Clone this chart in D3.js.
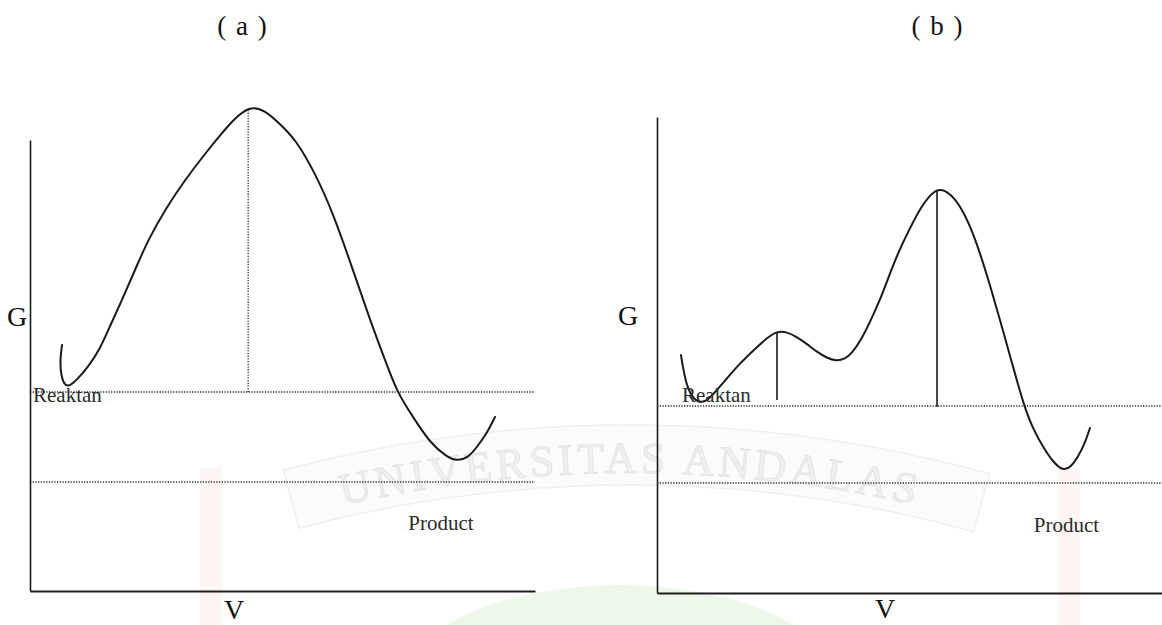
<!DOCTYPE html>
<html>
<head>
<meta charset="utf-8">
<script src="https://cdn.jsdelivr.net/npm/d3@7"></script>
<style>
  html, body { margin: 0; padding: 0; background: #fff; }
  svg { display: block; }
  text { font-family: "Liberation Serif", "Times New Roman", serif; }
</style>
</head>
<body>
<script>
// ---- Data: free-energy profiles along the reaction coordinate (V, G in arbitrary units) ----
const panelTitles = ["( a )", "( b )"];
const axisLabels = ["G", "V"];
const levelLabels = ["Reaktan", "Product"];

// (a) single-step reaction: [V, G]
const curveA = [
  [6.34, 49.2], [5.94, 46.2], [6.14, 43.2], [6.73, 41.4], [7.52, 40.8], [9.11, 42.0],
  [11.49, 44.8], [13.86, 48.4], [15.84, 53.0], [18.22, 58.2], [20.79, 64.2], [23.37, 70.2],
  [26.93, 76.6], [30.69, 82.2], [34.46, 87.2], [38.02, 91.6], [40.59, 94.6], [43.56, 97.0],
  [46.53, 96.2], [49.70, 93.2], [52.67, 90.2], [56.44, 83.6], [60.00, 75.6], [63.76, 64.8],
  [67.33, 54.2], [70.30, 46.2], [72.67, 39.8], [75.84, 34.8], [79.21, 29.6], [82.57, 26.8],
  [84.55, 26.0], [86.73, 26.6], [88.51, 28.8], [90.50, 31.6], [92.08, 34.8]
];
// (b) two-step reaction with an intermediate: [V, G]
const curveB = [
  [4.75, 47.6], [5.15, 45.0], [5.74, 42.2], [6.53, 39.8], [8.12, 38.0], [9.90, 38.2],
  [13.07, 42.0], [16.44, 46.0], [19.80, 49.2], [21.78, 51.0], [23.76, 52.4], [25.74, 52.2],
  [27.72, 51.2], [29.70, 49.8], [31.68, 48.2], [33.66, 47.0], [35.45, 46.4], [37.23, 46.8],
  [38.61, 48.0], [40.40, 50.6], [42.18, 54.2], [44.16, 58.6], [45.94, 63.4], [47.72, 68.0],
  [50.10, 73.0], [52.28, 77.2], [54.06, 79.6], [55.84, 81.0], [58.02, 80.0], [60.20, 77.2],
  [62.18, 73.0], [63.96, 68.0], [65.94, 61.6], [67.92, 54.6], [70.30, 46.0], [72.67, 37.4],
  [74.46, 32.8], [76.44, 29.2], [78.42, 26.2], [80.40, 24.4], [81.98, 25.2], [83.37, 27.2],
  [84.75, 30.0], [85.74, 33.0]
];
// Reactant and product G levels
const levelsA = [39.8, 21.8];
const levelsB = [37.4, 22.0];
// Barrier markers: [V, G from, G to]
const barriersA = [[43.2, 39.8, 96.6]];
const barriersB = [[23.76, 38.6, 52.2], [55.45, 37.2, 80.6]];

// ---- Layout ----
const W = 1162, H = 625;
const panels = [
  { title: panelTitles[0], curve: curveA, levels: levelsA, barriers: barriersA, dotted: true,
    left: 30, right: 535, bottom: 591, axisTopG: 90.2, titleX: 242,
    gX: 17, gY: 326, vX: 234, vY: 619,
    reakX: 33, reakY: 402, prodV: 74.9, prodDy: 48 },
  { title: panelTitles[1], curve: curveB, levels: levelsB, barriers: barriersB, dotted: false,
    left: 657, right: 1162, bottom: 593, axisTopG: 95.2, titleX: 937,
    gX: 628, gY: 325, vX: 885, vY: 618,
    reakX: 682, reakY: 402, prodV: 74.6, prodDy: 49 }
];

const svg = d3.select("body").append("svg")
  .attr("width", W).attr("height", H)
  .attr("viewBox", `0 0 ${W} ${H}`);

svg.append("rect").attr("width", W).attr("height", H).attr("fill", "#fff");

// ---- Faint university watermark behind the diagrams ----
const wm = svg.append("g").attr("class", "watermark");
const clip = svg.append("defs").append("clipPath").attr("id", "shield");
clip.append("rect").attr("x", 222).attr("y", 468).attr("width", 836).attr("height", 160);

const rays = wm.append("g").attr("clip-path", "url(#shield)")
  .attr("transform", "translate(640,720)");
const rayArc = d3.arc().innerRadius(0).outerRadius(520);
const rayAngles = d3.range(-7, 7).map(i => i * 0.16);
rays.selectAll("path").data(rayAngles).join("path")
  .attr("d", a => rayArc({ startAngle: a, endAngle: a + 0.16 }))
  .attr("fill", (a, i) => i % 2 === 0 ? "#fcf0d6" : "#fef8ec");

wm.append("ellipse").attr("cx", 620).attr("cy", 700).attr("rx", 230).attr("ry", 115)
  .attr("fill", "#eef8ea");
wm.selectAll("rect.strip").data([200, 1058]).join("rect")
  .attr("class", "strip")
  .attr("x", d => d).attr("y", 468).attr("width", 22).attr("height", 160)
  .attr("fill", "#fdf5f3");

const arcCx = 630, arcCy = 1773, arcR = 1300;
const ribbon = d3.arc().innerRadius(arcR - 12).outerRadius(arcR + 48)
  .startAngle(-0.26).endAngle(0.27);
wm.append("path").attr("transform", `translate(${arcCx},${arcCy})`)
  .attr("d", ribbon()).attr("fill", "#fbfbfb").attr("stroke", "#efefef").attr("stroke-width", 1.5);

// Lay the motto out along the arc, then set each glyph as its own rotated letter
const a0 = -0.3, a1 = 0.3;
wm.append("path").attr("id", "wmArc").attr("fill", "none")
  .attr("d", `M${arcCx + arcR * Math.sin(a0)},${arcCy - arcR * Math.cos(a0)} A${arcR},${arcR} 0 0 1 ${arcCx + arcR * Math.sin(a1)},${arcCy - arcR * Math.cos(a1)}`);
const motto = "UNIVERSITAS ANDALAS";
const guide = wm.append("text")
  .attr("font-size", 44).attr("letter-spacing", 4);
guide.append("textPath").attr("href", "#wmArc")
  .attr("startOffset", "50%").attr("text-anchor", "middle")
  .text(motto);
const gnode = guide.node();
const glyphs = [];
for (let i = 0; i < motto.length; i++) {
  if (motto[i] === " ") continue;
  const pt = gnode.getStartPositionOfChar(i);
  glyphs.push({ ch: motto[i], x: pt.x, y: pt.y, r: gnode.getRotationOfChar(i) });
}
guide.remove();
wm.selectAll("text.glyph").data(glyphs).join("text")
  .attr("class", "glyph")
  .attr("font-size", 44)
  .attr("transform", d => `translate(${d.x},${d.y}) rotate(${d.r})`)
  .attr("fill", "#f0f0f0").attr("stroke", "#e2e2e2").attr("stroke-width", 0.8)
  .text(d => d.ch);

// ---- Diagrams ----
panels.forEach(p => {
  const x = d3.scaleLinear().domain([0, 100]).range([p.left, p.right]);
  const y = d3.scaleLinear().domain([0, 100]).range([p.bottom, p.bottom - 500]);
  const g = svg.append("g");

  // title
  g.append("text").attr("x", p.titleX).attr("y", 35)
    .attr("text-anchor", "middle").attr("font-size", 27).attr("word-spacing", 3)
    .attr("fill", "#111").text(p.title);

  // reactant / product dotted levels
  g.selectAll("line.level").data(p.levels).join("line")
    .attr("class", "level")
    .attr("x1", x(0)).attr("x2", x(100))
    .attr("y1", d => y(d)).attr("y2", d => y(d))
    .attr("stroke", "#333").attr("stroke-width", 1.3)
    .attr("stroke-dasharray", "1.3,1.4");

  // axes
  const yAxisScale = y.copy().domain([0, p.axisTopG]).range([y(0), y(p.axisTopG)]);
  const yAxis = g.append("g").attr("transform", `translate(${x(0)},0)`)
    .call(d3.axisLeft(yAxisScale).tickValues([]).tickSizeOuter(0));
  yAxis.select(".domain").attr("stroke", "#1c1c1c").attr("stroke-width", 1.6);

  const xAxis = g.append("g").attr("transform", `translate(0,${y(0)})`)
    .call(d3.axisBottom(x).tickValues([]).tickSizeOuter(0));
  xAxis.select(".domain").attr("stroke", "#1c1c1c").attr("stroke-width", 2);

  // barrier markers
  g.selectAll("line.barrier").data(p.barriers).join("line")
    .attr("class", "barrier")
    .attr("x1", d => x(d[0])).attr("x2", d => x(d[0]))
    .attr("y1", d => y(d[1])).attr("y2", d => y(d[2]))
    .attr("stroke", p.dotted ? "#333" : "#1c1c1c")
    .attr("stroke-width", p.dotted ? 1.3 : 1.6)
    .attr("stroke-dasharray", p.dotted ? "1.3,1.4" : null);

  // energy profile (smooth B-spline through the sampled profile)
  const line = d3.line()
    .x(d => x(d[0])).y(d => y(d[1]))
    .curve(d3.curveBasis);
  g.append("path").datum(p.curve)
    .attr("d", line)
    .attr("fill", "none").attr("stroke", "#1a1a1a").attr("stroke-width", 2)
    .attr("stroke-linecap", "round").attr("stroke-linejoin", "round");

  // axis letters
  g.append("text").attr("x", p.gX).attr("y", p.gY).attr("text-anchor", "middle")
    .attr("font-size", 28).attr("fill", "#111").text(axisLabels[0]);
  g.append("text").attr("x", p.vX).attr("y", p.vY).attr("text-anchor", "middle")
    .attr("font-size", 28).attr("fill", "#111").text(axisLabels[1]);

  // level labels
  g.append("text").attr("x", p.reakX).attr("y", p.reakY)
    .attr("font-size", 21).attr("fill", "#2a2a2a").text(levelLabels[0]);
  g.append("text").attr("x", x(p.prodV)).attr("y", y(p.levels[1]) + p.prodDy)
    .attr("font-size", 21).attr("fill", "#2a2a2a").text(levelLabels[1]);
});
</script>
</body>
</html>
